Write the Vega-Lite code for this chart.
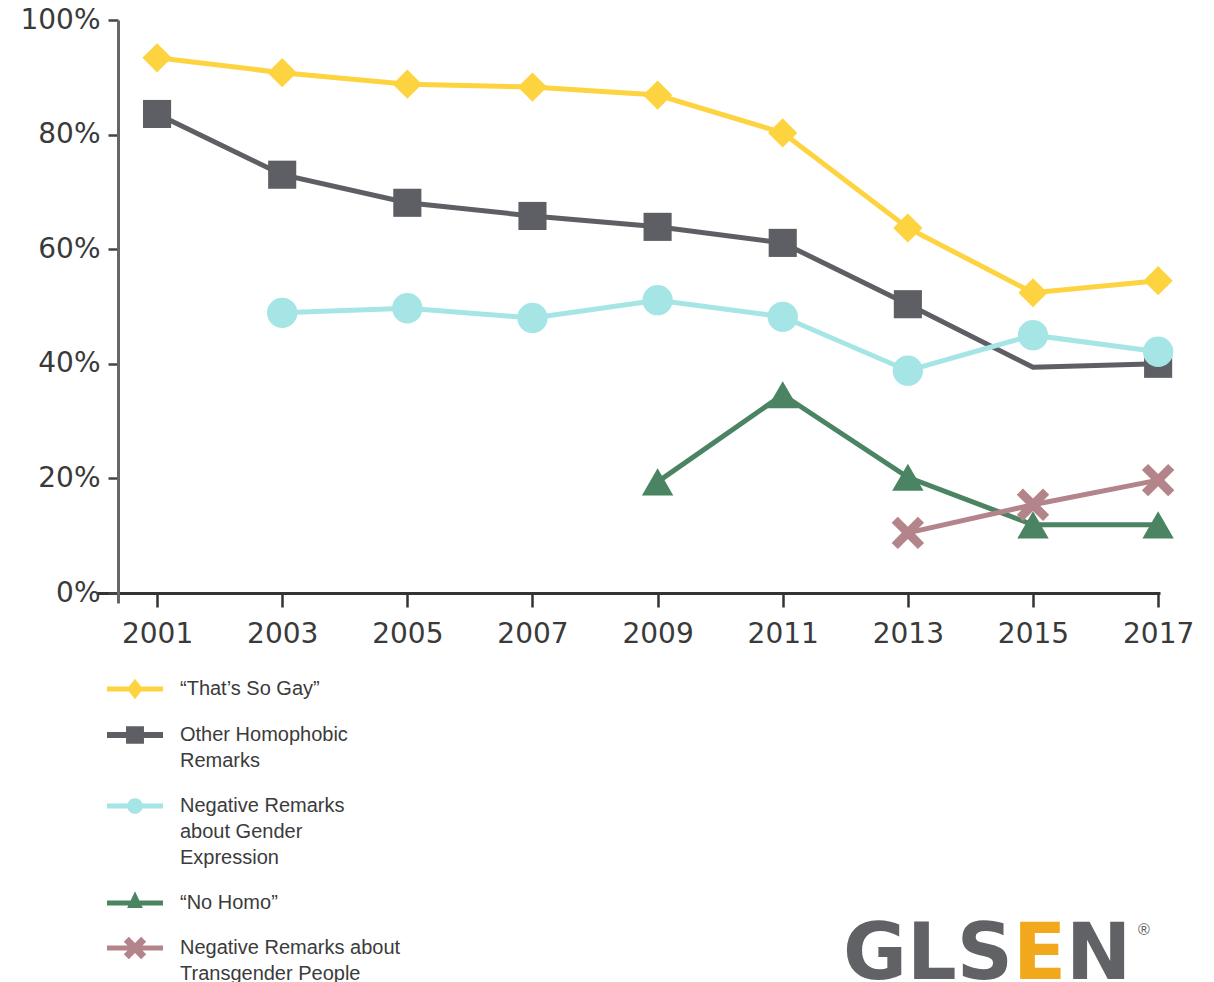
{
  "$schema": "https://vega.github.io/schema/vega-lite/v6.json",
  "autosize": {"type": "none"},
  "padding": {"left": 97, "top": 20, "right": 54, "bottom": 379},
  "width": 1063,
  "height": 583,
  "background": "white",
  "config": {
    "view": {"stroke": null},
    "axis": {"grid": false, "title": null, "labelFont": "DejaVu Sans", "labelFontSize": 28, "labelColor": "#3a3a3a"}
  },
  "data": {
    "values": [
      {"year": 2001, "series": "That's So Gay", "value": 93.4},
      {"year": 2003, "series": "That's So Gay", "value": 90.8},
      {"year": 2005, "series": "That's So Gay", "value": 88.8},
      {"year": 2007, "series": "That's So Gay", "value": 88.3},
      {"year": 2009, "series": "That's So Gay", "value": 86.9},
      {"year": 2011, "series": "That's So Gay", "value": 80.3},
      {"year": 2013, "series": "That's So Gay", "value": 63.7},
      {"year": 2015, "series": "That's So Gay", "value": 52.4},
      {"year": 2017, "series": "That's So Gay", "value": 54.5},
      {"year": 2001, "series": "Other Homophobic Remarks", "value": 83.6},
      {"year": 2003, "series": "Other Homophobic Remarks", "value": 73.0},
      {"year": 2005, "series": "Other Homophobic Remarks", "value": 68.1},
      {"year": 2007, "series": "Other Homophobic Remarks", "value": 65.8},
      {"year": 2009, "series": "Other Homophobic Remarks", "value": 63.9},
      {"year": 2011, "series": "Other Homophobic Remarks", "value": 61.1},
      {"year": 2013, "series": "Other Homophobic Remarks", "value": 50.4},
      {"year": 2015, "series": "Other Homophobic Remarks", "value": 39.4},
      {"year": 2017, "series": "Other Homophobic Remarks", "value": 40.0},
      {"year": 2003, "series": "Negative Remarks about Gender Expression", "value": 48.9},
      {"year": 2005, "series": "Negative Remarks about Gender Expression", "value": 49.7},
      {"year": 2007, "series": "Negative Remarks about Gender Expression", "value": 48.0},
      {"year": 2009, "series": "Negative Remarks about Gender Expression", "value": 51.1},
      {"year": 2011, "series": "Negative Remarks about Gender Expression", "value": 48.2},
      {"year": 2013, "series": "Negative Remarks about Gender Expression", "value": 38.8},
      {"year": 2015, "series": "Negative Remarks about Gender Expression", "value": 45.0},
      {"year": 2017, "series": "Negative Remarks about Gender Expression", "value": 42.1},
      {"year": 2009, "series": "No Homo", "value": 19.4},
      {"year": 2011, "series": "No Homo", "value": 34.6},
      {"year": 2013, "series": "No Homo", "value": 20.2},
      {"year": 2015, "series": "No Homo", "value": 11.9},
      {"year": 2017, "series": "No Homo", "value": 11.9},
      {"year": 2013, "series": "Negative Remarks about Transgender People", "value": 10.5},
      {"year": 2015, "series": "Negative Remarks about Transgender People", "value": 15.4},
      {"year": 2017, "series": "Negative Remarks about Transgender People", "value": 19.7}
    ]
  },
  "layer": [
    {
      "mark": {"type": "line", "strokeWidth": 5},
      "encoding": {
        "x": {
          "field": "year", "type": "quantitative",
          "scale": {"domain": [2000.04, 2017.03], "nice": false, "zero": false},
          "axis": {
            "values": [2001, 2003, 2005, 2007, 2009, 2011, 2013, 2015, 2017],
            "format": "d", "offset": -10, "tickSize": 14, "tickWidth": 2.5, "tickColor": "#333333",
            "domainColor": "#333333", "domainWidth": 3, "labelPadding": 13
          }
        },
        "y": {
          "field": "value", "type": "quantitative",
          "scale": {"domain": [-1.745, 100], "nice": false, "zero": false},
          "axis": {
            "values": [0, 20, 40, 60, 80, 100],
            "labelExpr": "datum.value + '%'", "offset": -21, "tickSize": 10, "tickWidth": 2.5,
            "tickColor": "#444444", "domainColor": "#666666", "domainWidth": 3, "labelPadding": 8
          }
        },
        "color": {
          "field": "series", "type": "nominal",
          "scale": {
            "domain": ["That's So Gay", "Other Homophobic Remarks", "Negative Remarks about Gender Expression", "No Homo", "Negative Remarks about Transgender People"],
            "range": ["#FDD340", "#5E5F64", "#A6E5E6", "#4A8462", "#B3848A"]
          },
          "legend": {
            "orient": "none", "legendX": 10, "legendY": 641, "title": null, "padding": 0,
            "labelFont": "Liberation Sans", "labelFontSize": 20, "labelColor": "#3b3b3b",
            "labelBaseline": "top", "labelOffset": 17, "labelLimit": 400, "rowPadding": 7,
            "symbolSize": 3136, "symbolStrokeWidth": 0,
            "labelExpr": "datum.value === 'Other Homophobic Remarks' ? ['Other Homophobic', 'Remarks'] : datum.value === 'Negative Remarks about Gender Expression' ? ['Negative Remarks', 'about Gender', 'Expression'] : datum.value === 'No Homo' ? '\u201cNo Homo\u201d' : datum.value === 'Negative Remarks about Transgender People' ? ['\u2002Negative Remarks about', 'Transgender People'] : '\u201cThat\u2019s So Gay\u201d'",
            "encode": {
              "symbols": {
                "update": {
                  "shape": {"signal": "['M-1,-0.09H1V0.09H-1Z M-0.28,0L0,-0.37L0.28,0L0,0.37Z', 'M-1,-0.11H1V0.11H-1Z M-0.32,-0.31H0.32V0.31H-0.32Z', 'M-1,-0.09H1V0.09H-1Z M-0.28,0A0.28,0.28 0 1,1 0.28,0A0.28,0.28 0 1,1 -0.28,0Z', 'M-1,-0.09H1V0.09H-1Z M-0.28,0.18L0,-0.42L0.28,0.18Z', 'M-1,-0.09H1V0.09H-1Z M-0.4,-0.22L-0.22,-0.4L0,-0.18L0.22,-0.4L0.4,-0.22L0.18,0L0.4,0.22L0.22,0.4L0,0.18L-0.22,0.4L-0.4,0.22L-0.18,0Z'][indexof(['That\\'s So Gay', 'Other Homophobic Remarks', 'Negative Remarks about Gender Expression', 'No Homo', 'Negative Remarks about Transgender People'], datum.value)]"},
                  "fill": {"scale": "color", "field": "value"},
                  "stroke": {"value": "transparent"},
                  "strokeWidth": {"value": 0},
                  "opacity": {"value": 1},
                  "size": {"value": 3136}
                }
              },
              "labels": {
                "update": {"dy": {"value": -10}, "lineHeight": {"value": 26}}
              }
            }
          }
        }
      }
    },
    {
      "transform": [{"filter": "!(datum.series === 'Other Homophobic Remarks' && datum.year === 2015)"}],
      "mark": {"type": "point", "filled": true, "opacity": 1, "strokeWidth": 0},
      "encoding": {
        "x": {"field": "year", "type": "quantitative"},
        "y": {"field": "value", "type": "quantitative"},
        "color": {"field": "series", "type": "nominal", "legend": null},
        "shape": {
          "field": "series", "type": "nominal",
          "scale": {
            "domain": ["Negative Remarks about Transgender People", "No Homo", "Negative Remarks about Gender Expression", "Other Homophobic Remarks", "That's So Gay"],
            "range": ["M-1,-0.62L-0.62,-1L0,-0.38L0.62,-1L1,-0.62L0.38,0L1,0.62L0.62,1L0,0.38L-0.62,1L-1,0.62L-0.38,0Z", "triangle-up", "circle", "square", "diamond"]
          },
          "legend": null
        },
        "size": {
          "field": "series", "type": "ordinal",
          "scale": {
            "domain": ["Other Homophobic Remarks", "That's So Gay", "Negative Remarks about Gender Expression", "No Homo", "Negative Remarks about Transgender People"],
            "range": [790, 1050, 730, 1000, 1000]
          },
          "legend": null
        }
      }
    },
    {
      "data": {"values": [{}]},
      "mark": {"type": "text", "font": "DejaVu Sans", "fontWeight": "bold", "fontSize": 78, "align": "right", "baseline": "alphabetic", "color": "#616265"},
      "encoding": {"x": {"datum": 2014.68}, "y": {"datum": -67.4}, "text": {"value": "GLS"}}
    },
    {
      "data": {"values": [{}]},
      "mark": {"type": "text", "font": "DejaVu Sans", "fontWeight": "bold", "fontSize": 78, "align": "left", "baseline": "alphabetic", "color": "#F2A81D"},
      "encoding": {"x": {"datum": 2014.68}, "y": {"datum": -67.4}, "text": {"value": "E"}}
    },
    {
      "data": {"values": [{}]},
      "mark": {"type": "text", "font": "DejaVu Sans", "fontWeight": "bold", "fontSize": 78, "align": "right", "baseline": "alphabetic", "color": "#616265"},
      "encoding": {"x": {"datum": 2016.57}, "y": {"datum": -67.4}, "text": {"value": "N"}}
    },
    {
      "data": {"values": [{}]},
      "mark": {"type": "text", "font": "Liberation Sans", "fontSize": 16, "align": "left", "baseline": "alphabetic", "color": "#616265"},
      "encoding": {"x": {"datum": 2016.68}, "y": {"datum": -59.7}, "text": {"value": "\u00ae"}}
    }
  ]
}
